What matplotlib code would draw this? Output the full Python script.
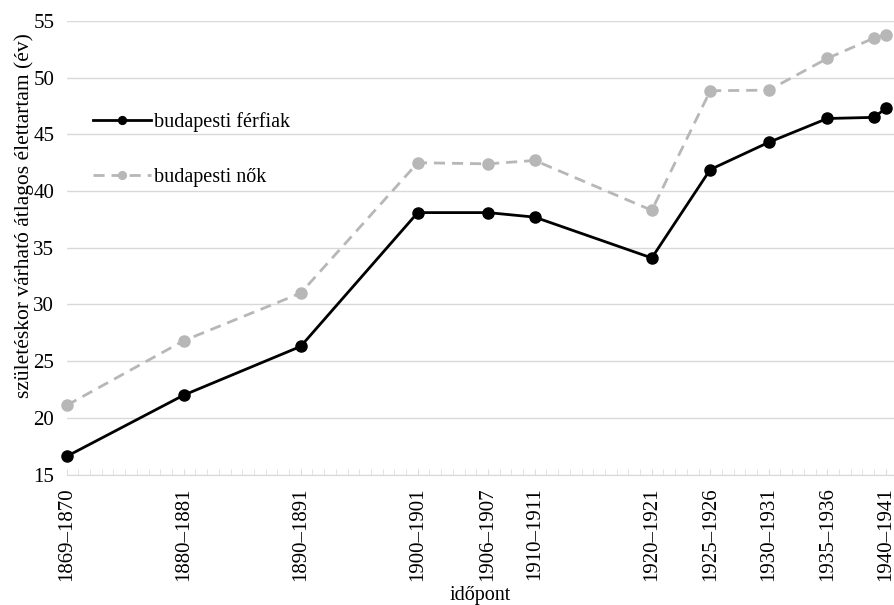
import matplotlib.pyplot as plt
from matplotlib.ticker import MultipleLocator

plt.rcParams['font.family'] = ['Liberation Serif', 'DejaVu Serif']

# év (a pontok helye az időtengelyen)
evek = [1870, 1880, 1890, 1900, 1906, 1910, 1920, 1925, 1930, 1935, 1939, 1940]
ferfiak = [16.6, 22.0, 26.3, 38.1, 38.1, 37.7, 34.1, 41.9, 44.3, 46.4, 46.5, 47.3]
nok = [21.1, 26.8, 31.0, 42.5, 42.4, 42.7, 38.3, 48.85, 48.9, 51.7, 53.5, 53.8]

tick_evek = [1870, 1880, 1890, 1900, 1906, 1910, 1920, 1925, 1930, 1935, 1940]
tick_cimkek = ["1869–1870", "1880–1881", "1890–1891", "1900–1901", "1906–1907",
               "1910–1911", "1920–1921", "1925–1926", "1930–1931", "1935–1936",
               "1940–1941"]

fig = plt.figure(figsize=(8.94, 6.05), dpi=100)
ax = fig.add_axes([0.0746, 0.2157, 0.9254, 0.7496])

ax.plot(evek, ferfiak, color='black', lw=2.0, marker='o', ms=8,
        label='budapesti férfiak', clip_on=False, zorder=4)
ax.plot(evek, nok, color='#b7b7b7', lw=2.0, ls=(0, (4, 2.5)), marker='o', ms=8,
        label='budapesti nők', clip_on=False, zorder=3)

ax.set_xlim(1870, 1940.7)
ax.set_ylim(15, 55)
ax.yaxis.set_major_locator(MultipleLocator(5))
ax.grid(axis='y', color='#d9d9d9', lw=1)
ax.set_axisbelow(True)

ax.set_xticks(tick_evek)
ax.set_xticklabels(tick_cimkek, rotation=90)
ax.xaxis.set_minor_locator(MultipleLocator(1))
ax.tick_params(axis='x', which='both', direction='in', length=4, color='#dddddd',
               labelsize=15, pad=9)
ax.tick_params(axis='y', length=0, labelsize=15, pad=9)

for s in ['top', 'right', 'left']:
    ax.spines[s].set_visible(False)
ax.spines['bottom'].set_color('#d9d9d9')

ax.set_xlabel('időpont', fontsize=14.5)
ax.set_ylabel('születéskor várható átlagos élettartam (év)', fontsize=15.5)
ax.yaxis.set_label_coords(-0.040, 0.572)

ax.legend(loc='upper left', bbox_to_anchor=(0.01, 0.84), frameon=False, fontsize=14.5,
          handlelength=2.9, handletextpad=0.1, labelspacing=1.8, markerscale=0.7)

fig.savefig('out.png', dpi=100)
